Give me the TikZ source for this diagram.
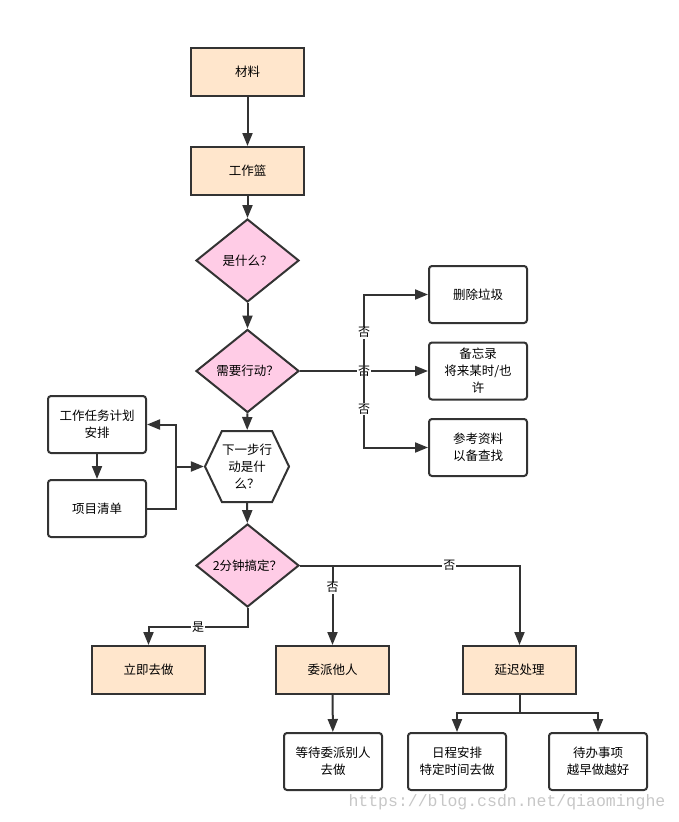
\documentclass[tikz,border=0pt]{standalone}
\usepackage{fontspec}
\setmainfont{Noto Sans CJK SC}
\newfontfamily\wmfont{Liberation Mono}
\usetikzlibrary{arrows.meta,shapes.geometric,shapes.symbols}
\definecolor{boxfill}{HTML}{FFE6CC}
\definecolor{decfill}{HTML}{FFCCE6}
\definecolor{linecol}{HTML}{333333}
\tikzstyle{ln}=[line width=2pt,draw=linecol]
\tikzstyle{arr}=[ln,-{Triangle[length=13pt,width=10pt]}]
\tikzstyle{stepbox}=[draw=linecol,line width=2pt,fill=boxfill,
  minimum width=113pt,minimum height=48pt,inner sep=0pt]
\tikzstyle{decision}=[diamond,aspect=1.24,draw=linecol,line width=2pt,fill=decfill,
  minimum width=103pt,minimum height=83pt,inner sep=0pt]
\tikzstyle{note}=[draw=linecol,line width=2pt,rounded corners=3pt,fill=white,
  minimum width=98pt,minimum height=57pt,inner sep=0pt,align=center]
\tikzstyle{hexa}=[signal,signal to=west and east,signal pointer angle=129,
  draw=linecol,line width=2pt,fill=white,minimum width=84pt,minimum height=71pt,
  inner sep=0pt,align=center]
\tikzstyle{lab}=[fill=white,inner sep=1pt,font=\fontsize{12}{14}\selectfont]

\begin{document}
\begin{tikzpicture}[x=1pt,y=-1pt,font=\fontsize{12.5}{17}\selectfont]
  \useasboundingbox (0,0) rectangle (678,822);

  \node[stepbox] (mat) at (247.5,72) {材料};
  \node[stepbox] (basket) at (247.5,171) {工作篮};
  \node[decision] (what) at (247.5,260.5) {是什么？};
  \node[decision] (act) at (247.5,371) {需要行动？};

  \node[note] (del) at (478,294.5) {删除垃圾};
  \node[note] (memo) at (478,371) {备忘录\\将来某时/也\\许};
  \node[note] (ref) at (478,447.5) {参考资料\\以备查找};

  \node[hexa] (next) at (247,466.5) {下一步行\\动是什\\么？};
  \node[note] (plan) at (97,424.5) {工作任务计划\\安排};
  \node[note] (list) at (97,508.5) {项目清单};

  \node[decision] (two) at (247.5,565.5) {2分钟搞定？};
  \node[stepbox] (now) at (148.5,670) {立即去做};
  \node[stepbox] (deleg) at (332.5,670) {委派他人};
  \node[stepbox] (delay) at (519.5,670) {延迟处理};

  \node[note] (wait) at (333,761.5) {等待委派别人\\去做};
  \node[note] (sched) at (457,761.5) {日程安排\\特定时间去做};
  \node[note] (todo) at (598,761.5) {待办事项\\越早做越好};

  \node[anchor=west,text=black!22,font=\wmfont\fontsize{16.5}{18}\selectfont]
    (wm) at (345,802) {https://blog.csdn.net/qiaominghe};

  \coordinate (splitA) at (364,371);
  \coordinate (joinL) at (176,508.5);
  \coordinate (yesbend) at (247.5,627);
  \coordinate (splitB) at (332.5,565.5);
  \coordinate (splitC) at (519.5,713);

  \draw[arr] (mat) -- (basket);
  \draw[arr] (basket) -- (what);
  \draw[arr] (what) -- (act);
  \draw[arr] (act.east) -- node[lab]{否} (memo.west);
  \draw[arr] (splitA) |- node[lab,pos=0.25]{否} (del.west);
  \draw[arr] (splitA) |- node[lab,pos=0.25]{否} (ref.west);
  \draw[arr] (act) -- (next);

  \draw[arr] (plan) -- (list);
  \draw[arr] (list.east) -- (joinL) |- (plan.east);
  \draw[arr] (joinL) |- (next.west);
  \draw[arr] (next) -- (two);

  \draw[arr] (two.south) -- (yesbend) -| node[lab,pos=0.25]{是} (now.north);
  \draw[arr] (two.east) -| node[lab,pos=0.34]{否} (delay.north);
  \draw[arr] (splitB) -- node[lab,pos=0.28]{否} (deleg.north);

  \draw[arr] (deleg) -- (wait);
  \draw[ln] (delay) -- (splitC);
  \draw[arr] (splitC) -| (sched.north);
  \draw[arr] (splitC) -| (todo.north);
\end{tikzpicture}
\end{document}
